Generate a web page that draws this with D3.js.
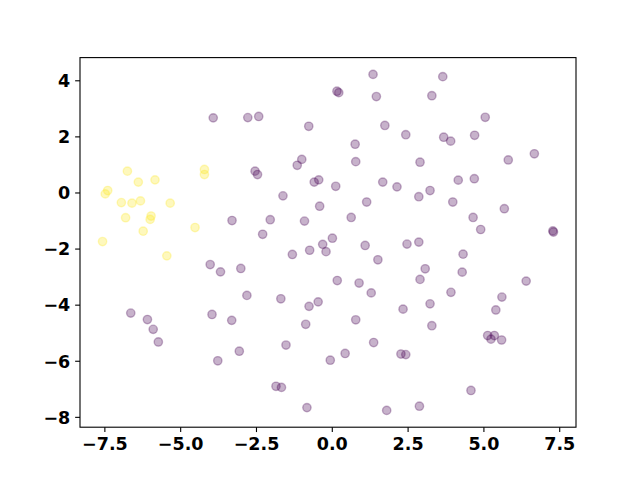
<!DOCTYPE html>
<html><head><meta charset="utf-8">
<script src="https://cdn.jsdelivr.net/npm/d3@7"></script>
<style>body{margin:0;background:#fff}svg{display:block}</style>
</head><body>
<svg id="chart" width="640" height="480"></svg>
<script>
// class 0 (purple) points
const purpleX = [-3.91,-2.77,-2.41,1.36,0.17,0.23,1.47,-0.76,1.75,2.44,0.77,-0.99,-1.14,0.79,-2.53,-2.45,-0.58,-0.43,1.68,3.66,3.30,5.06,3.69,3.92,4.71,2.91,5.82,6.68,4.17,4.70,0.13,2.15,-1.61,-0.40,1.15,-2.03,-0.90,0.64,-2.28,0.02,-0.30,-0.19,-0.73,-1.30,1.10,1.52,2.48,-3.29,-4.01,-3.67,-3.00,-2.80,0.18,0.90,1.30,-1.68,2.87,3.24,3.99,5.69,4.66,4.91,7.29,7.31,2.87,4.33,3.08,4.30,2.91,6.41,3.93,5.61,-6.63,-6.08,-5.89,-5.72,-3.95,-3.30,-3.05,-3.76,-0.75,-0.45,-0.86,0.79,2.35,-1.51,-0.05,0.44,1.38,2.28,2.44,-1.84,-1.66,-0.82,1.81,3.24,5.41,3.30,5.14,5.36,5.25,5.60,4.59,2.89];
const purpleY = [2.66,2.67,2.71,4.21,3.61,3.56,3.42,2.36,2.39,2.06,1.72,1.18,0.97,1.10,0.76,0.64,0.37,0.45,0.37,4.13,3.45,2.68,1.97,1.83,2.04,1.08,1.16,1.38,0.44,0.49,0.22,0.20,-0.12,-0.49,-0.34,-0.97,-1.02,-0.89,-1.49,-1.63,-1.85,-2.11,-2.06,-2.21,-1.89,-2.40,-1.84,-1.00,-2.57,-2.83,-2.71,-3.67,-3.14,-3.23,-3.58,-3.79,-0.15,0.07,-0.34,-0.58,-0.89,-1.32,-1.37,-1.41,-1.77,-2.20,-2.72,-2.84,-3.10,-3.16,-3.56,-3.73,-4.30,-4.53,-4.88,-5.33,-4.35,-4.56,-5.66,-6.00,-4.06,-3.90,-4.70,-4.54,-4.16,-5.44,-5.98,-5.74,-5.35,-5.76,-5.78,-6.91,-6.95,-7.67,-7.77,-3.97,-4.19,-4.75,-5.10,-5.10,-5.23,-5.26,-7.06,-7.62];
// class 1 (yellow) points
const yellowX = [-6.74,-6.38,-5.83,-4.20,-4.20,-7.39,-7.47,-6.94,-6.59,-6.31,-5.33,-6.80,-5.96,-5.99,-6.22,-4.51,-7.56,-5.44];
const yellowY = [0.76,0.37,0.45,0.82,0.64,0.07,-0.05,-0.36,-0.38,-0.30,-0.38,-0.90,-0.84,-0.96,-1.38,-1.25,-1.75,-2.26];
const xTicks = [-7.5,-5.0,-2.5,0.0,2.5,5.0,7.5];
const yTicks = [4,2,0,-2,-4,-6,-8];
const colors = ["#440154","#fde725"];

const W=640,H=480, L=80, R=576, T=57.6, B=427.2;
const pts = [];
purpleX.forEach((x,i)=>pts.push({x, y:purpleY[i], c:0}));
yellowX.forEach((x,i)=>pts.push({x, y:yellowY[i], c:1}));

function pad(ext){const r=ext[1]-ext[0];return [ext[0]-0.05*r, ext[1]+0.05*r];}
const x = d3.scaleLinear().domain(pad(d3.extent(pts,d=>d.x))).range([L,R]);
const y = d3.scaleLinear().domain(pad(d3.extent(pts,d=>d.y))).range([B,T]);

const svg = d3.select("#chart");
svg.append("rect").attr("width",W).attr("height",H).attr("fill","#fff");

svg.append("g").selectAll("circle").data(pts).join("circle")
  .attr("cx",d=>x(d.x)).attr("cy",d=>y(d.y)).attr("r",4.17)
  .attr("fill",d=>colors[d.c]).attr("fill-opacity",0.3)
  .attr("stroke",d=>colors[d.c]).attr("stroke-opacity",0.3).attr("stroke-width",1.4);

svg.append("rect").attr("x",L).attr("y",T).attr("width",R-L).attr("height",B-T)
  .attr("fill","none").attr("stroke","#000").attr("stroke-width",1.1);

const fmtX = d=> d3.format(".1f")(d).replace("-","\u2212");
const fmtY = d=> String(d).replace("-","\u2212");
const xa = svg.append("g").attr("transform",`translate(0,${B})`)
  .call(d3.axisBottom(x).tickValues(xTicks).tickFormat(fmtX).tickSize(4.86).tickPadding(4.86));
const ya = svg.append("g").attr("transform",`translate(${L},0)`)
  .call(d3.axisLeft(y).tickValues(yTicks).tickFormat(fmtY).tickSize(4.86).tickPadding(4.86));
[xa,ya].forEach(a=>{
  a.select(".domain").remove();
  a.selectAll(".tick line").attr("stroke","#000").attr("stroke-width",1.1);
  a.selectAll("text").attr("fill","#000").style("font-family","'DejaVu Sans', sans-serif").style("font-weight","bold").style("font-size","17.5px");
});
xa.selectAll("text").attr("dy","0.76em");
ya.selectAll("text").attr("dy","0.36em");
</script>
</body></html>
